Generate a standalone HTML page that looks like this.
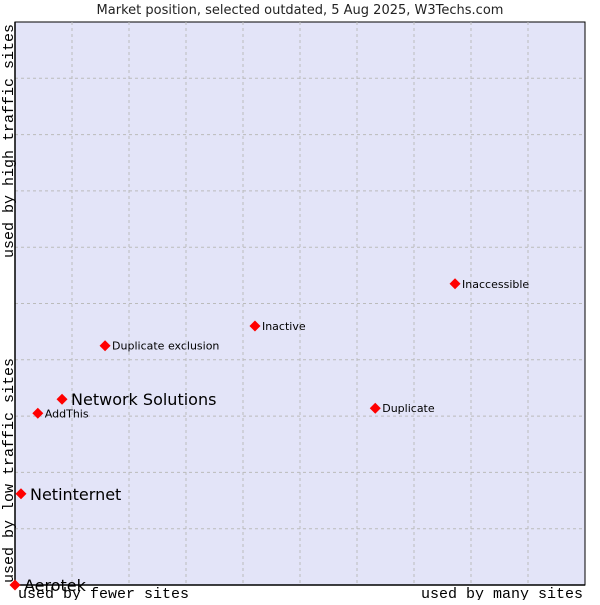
<!DOCTYPE html>
<html><head><meta charset="utf-8"><style>
body{margin:0;background:#fff;width:600px;height:600px;overflow:hidden}
svg text{font-family:"DejaVu Sans","Liberation Sans",sans-serif}
.mono{font-family:"Liberation Mono","DejaVu Sans Mono",monospace}
</style></head><body>
<svg id="chart" width="600" height="600" xmlns="http://www.w3.org/2000/svg">
<text x="300" y="14" text-anchor="middle" font-size="13" fill="#222">Market position, selected outdated, 5 Aug 2025, W3Techs.com</text>
<rect x="15" y="22" width="570" height="563" fill="#e3e4f8" stroke="#000" stroke-width="1"/>
<g id="grid"></g>
<line x1="15" y1="22" x2="15" y2="585" stroke="#000" stroke-width="1.5"/>
<line x1="15" y1="585" x2="585" y2="585" stroke="#000" stroke-width="1.5"/>
<g id="points"></g>
<text class="mono" x="18" y="598" font-size="15" fill="#000">used by fewer sites</text>
<text class="mono" x="583" y="598" font-size="15" fill="#000" text-anchor="end">used by many sites</text>
<text class="mono" transform="translate(13,583) rotate(-90)" font-size="15" fill="#000">used by low traffic sites</text>
<text class="mono" transform="translate(13,258) rotate(-90)" font-size="15" fill="#000">used by high traffic sites</text>
</svg>
<script>
const names=["Aerotek","Netinternet","Network Solutions","AddThis","Duplicate exclusion","Inactive","Duplicate","Inaccessible"];
const xValues=[0,1.05,8.25,4.0,15.8,42.1,63.2,77.2];
const yValues=[0,16.2,33.0,30.5,42.5,46.0,31.4,53.5];
const bigLabel=[true,true,true,false,false,false,false,false];
const ns="http://www.w3.org/2000/svg";
const X0=15,X1=585,Y0=585,Y1=22;
function sx(v){return X0+(X1-X0)*v/100;}
function sy(v){return Y0-(Y0-Y1)*v/100;}
const grid=document.getElementById('grid');
for(let i=1;i<10;i++){
  const v=document.createElementNS(ns,'line');
  
  
  v.setAttribute('x1',sx(i*10));v.setAttribute('x2',sx(i*10));v.setAttribute('y1',Y1);v.setAttribute('y2',Y0);
  v.setAttribute('stroke','#bbb');v.setAttribute('stroke-dasharray','3,3');
  grid.appendChild(v);
  const h=document.createElementNS(ns,'line');
  
  
  h.setAttribute('y1',sy(i*10));h.setAttribute('y2',sy(i*10));h.setAttribute('x1',X0);h.setAttribute('x2',X1);
  h.setAttribute('stroke','#bbb');h.setAttribute('stroke-dasharray','3,3');
  grid.appendChild(h);
}
const pts=document.getElementById('points');
names.forEach((n,i)=>{
  const cx=sx(xValues[i]),cy=sy(yValues[i]);
  const d=document.createElementNS(ns,'path');
  
  
  d.setAttribute('d',`M${cx-5.5},${cy}L${cx},${cy-5.5}L${cx+5.5},${cy}L${cx},${cy+5.5}Z`);
  d.setAttribute('fill','#f00');
  pts.appendChild(d);
  const t=document.createElementNS(ns,'text');
  
  
  t.setAttribute('x',cx+(bigLabel[i]?9:7));
  t.setAttribute('y',cy+(bigLabel[i]?6:4));
  t.setAttribute('font-size',bigLabel[i]?16:11);
  t.setAttribute('fill','#000');
  t.textContent=n;
  pts.appendChild(t);
});
</script>
</body></html>
